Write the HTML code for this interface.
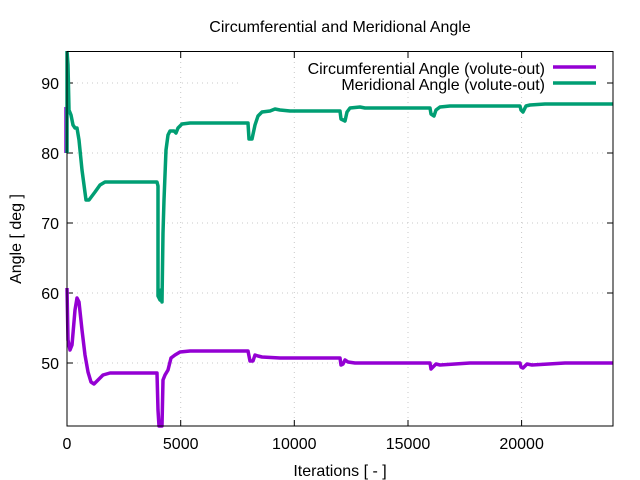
<!DOCTYPE html>
<html><head><style>
body{margin:0;background:#fff;}
svg{display:block;font-family:"Liberation Sans",sans-serif;}
</style></head><body>
<svg width="640" height="480" viewBox="0 0 640 480">
<rect width="640" height="480" fill="#fff"/>
<g stroke="#c8c8c8" stroke-width="1" stroke-dasharray="1,4">
<line x1="180.7" y1="52" x2="180.7" y2="426"/>
<line x1="294.3" y1="52" x2="294.3" y2="426"/>
<line x1="408" y1="52" x2="408" y2="426"/>
<line x1="521.6" y1="52" x2="521.6" y2="426"/>
<line x1="67" y1="83" x2="240" y2="83"/>
<line x1="67" y1="153" x2="613" y2="153"/>
<line x1="67" y1="223" x2="613" y2="223"/>
<line x1="67" y1="293" x2="613" y2="293"/>
<line x1="67" y1="363" x2="613" y2="363"/>
</g>
<g stroke="#000" stroke-width="1">
<line x1="67" y1="83" x2="73" y2="83"/><line x1="613" y1="83" x2="607" y2="83"/>
<line x1="67" y1="153" x2="73" y2="153"/><line x1="613" y1="153" x2="607" y2="153"/>
<line x1="67" y1="223" x2="73" y2="223"/><line x1="613" y1="223" x2="607" y2="223"/>
<line x1="67" y1="293" x2="73" y2="293"/><line x1="613" y1="293" x2="607" y2="293"/>
<line x1="67" y1="363" x2="73" y2="363"/><line x1="613" y1="363" x2="607" y2="363"/>
<line x1="180.7" y1="426" x2="180.7" y2="420"/><line x1="180.7" y1="52" x2="180.7" y2="58"/>
<line x1="294.3" y1="426" x2="294.3" y2="420"/><line x1="294.3" y1="52" x2="294.3" y2="58"/>
<line x1="408" y1="426" x2="408" y2="420"/><line x1="408" y1="52" x2="408" y2="58"/>
<line x1="521.6" y1="426" x2="521.6" y2="420"/><line x1="521.6" y1="52" x2="521.6" y2="58"/>
</g>
<path d="M66,107 L66,153" stroke="#9400d3" stroke-width="3.5" fill="none"/>
<path d="M67,288 L68,340 L70,350 L72,345 L75,310 L77,298 L79,302 L82,330 L85,355 L88,372 L91,382 L94,384 L98,380 L103,375 L110,373 L157,373 L158,410 L159,426 L162,426 L163,380 L165,375 L168,370 L171,358 L175,355 L180,352 L190,351 L248,351 L250,361 L253,361 L255,355 L258,356 L262,357 L280,358 L340,358 L341,365 L343,364 L345,360 L348,362 L355,363 L430,363 L431,369 L433,367 L436,364 L440,365 L470,363 L520,363 L521,367 L523,368 L527,364 L532,365 L565,363 L613,363" stroke="#9400d3" stroke-width="3.5" fill="none" stroke-linejoin="round"/>
<path d="M67,153 L67,51 M67,51 L68,65 L69,110 L71,115 L73,125 L75,128 L77,128 L79,140 L82,170 L86,200 L89,200 L95,192 L100,185 L105,182 L120,182 L157,182 L158,186 L158,296 L160,300 L161,290 L162,302 L163,233 L164,200 L166,150 L168,135 L170,131 L174,131 L176,133 L178,128 L182,124 L190,123 L200,123 L248,123 L249,139 L252,139 L255,125 L258,116 L262,112 L270,111 L275,109 L280,110 L290,111 L340,111 L341,119 L345,121 L347,112 L350,108 L360,107 L365,108 L430,108 L431,114 L434,116 L436,110 L440,107 L450,106 L520,106 L521,110 L523,112 L526,106 L530,105 L545,104 L613,104" stroke="#009e73" stroke-width="3.5" fill="none" stroke-linejoin="round"/>
<rect x="67" y="51.5" width="546" height="374.5" fill="none" stroke="#000" stroke-width="1"/>
<g font-size="16" fill="#000" text-anchor="end">
<text x="59" y="89">90</text>
<text x="59" y="159">80</text>
<text x="59" y="229">70</text>
<text x="59" y="299">60</text>
<text x="59" y="369">50</text>
</g>
<g font-size="16" fill="#000" text-anchor="middle">
<text x="67" y="449">0</text>
<text x="180.7" y="449">5000</text>
<text x="294.3" y="449">10000</text>
<text x="408" y="449">15000</text>
<text x="521.6" y="449">20000</text>
<text x="340" y="476">Iterations [ - ]</text>
<text x="340" y="32">Circumferential and Meridional Angle</text>
<text transform="translate(21,239) rotate(-90)">Angle [ deg ]</text>
</g>
<g font-size="16" fill="#000" text-anchor="end">
<text x="545" y="74">Circumferential Angle (volute-out)</text>
<text x="545" y="90">Meridional Angle (volute-out)</text>
</g>
<line x1="553" y1="67" x2="596" y2="67" stroke="#9400d3" stroke-width="3.5"/>
<line x1="553" y1="83" x2="596" y2="83" stroke="#009e73" stroke-width="3.5"/>
</svg>
</body></html>
